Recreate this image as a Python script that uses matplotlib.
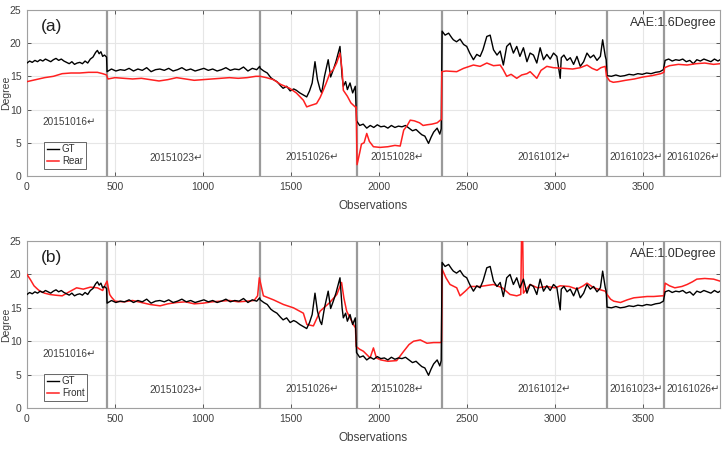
import matplotlib
matplotlib.use('Agg')
import matplotlib.pyplot as plt

plt.rcParams['font.family'] = ['Liberation Sans', 'DejaVu Sans']

# ---------------- data ----------------
gt_x = [0, 15, 30, 45, 60, 75, 90, 105, 120, 135, 150, 165, 180, 195, 210, 225, 240, 255, 270, 285, 300, 315, 330, 345, 360, 375, 390, 400, 410, 420, 430, 440, 452,
        455, 480, 505, 530, 555, 580, 605, 630, 655, 680, 705, 730, 755, 780, 805, 830, 855, 880, 905, 930, 955, 980, 1005, 1030, 1055, 1080, 1105, 1130, 1155, 1180, 1205, 1230, 1255, 1280, 1305, 1322,
        1325, 1345, 1365, 1385, 1400, 1420, 1440, 1455, 1475, 1495, 1515, 1530, 1550, 1570, 1589, 1605, 1620, 1636, 1650, 1665, 1674, 1690, 1711, 1725, 1740, 1755, 1768, 1778, 1790, 1797, 1810, 1820, 1835, 1850, 1865,
        1872, 1890, 1910, 1930, 1950, 1970, 1990, 2010, 2030, 2050, 2070, 2090, 2110, 2130, 2150, 2170, 2190, 2210, 2230, 2243, 2260, 2281, 2295, 2310, 2330, 2345, 2353,
        2358, 2375, 2395, 2413, 2422, 2440, 2460, 2480, 2498, 2515, 2536, 2555, 2574, 2590, 2612, 2631, 2650, 2670, 2688, 2706, 2725, 2744, 2763, 2782, 2800, 2820, 2840, 2858, 2877, 2896, 2915, 2934, 2953, 2972, 2991, 3010, 3029, 3035, 3050, 3068, 3086, 3105, 3124, 3143, 3162, 3181, 3200, 3219, 3238, 3257, 3270, 3276, 3285, 3290,
        3295, 3320, 3345, 3370, 3395, 3420, 3445, 3470, 3495, 3520, 3545, 3570, 3595, 3615,
        3625, 3645, 3665, 3685, 3705, 3725, 3745, 3765, 3785, 3805, 3825, 3845, 3865, 3885, 3905, 3925, 3937]
gt_y = [17.0, 17.3, 17.1, 17.4, 17.2, 17.5, 17.3, 17.6, 17.4, 17.2, 17.5, 17.7, 17.4, 17.6, 17.3, 17.1, 16.9, 17.2, 16.8, 17.0, 17.1, 16.9, 17.3, 17.0, 17.6, 17.9, 18.6, 18.9, 18.4, 18.7, 18.0, 18.2, 17.9,
        15.7, 16.1, 15.8, 16.0, 15.9, 16.2, 15.8, 16.1, 15.9, 16.3, 15.7, 16.0, 16.1, 15.9, 16.2, 15.8, 16.0, 16.3, 15.9, 16.1, 15.8, 16.0, 16.2, 15.9, 16.1, 15.8, 16.0, 16.3, 15.9, 16.1, 16.0, 16.4, 15.8, 16.2, 16.0, 16.5,
        16.2, 15.8, 15.5, 14.8, 14.5, 14.2, 13.6, 13.2, 13.5, 12.8, 13.1, 12.9, 12.5, 12.2, 11.9, 12.8, 14.0, 17.2, 14.5, 13.0, 12.5, 15.0, 17.5, 14.9, 16.0, 17.2, 18.5, 19.5, 15.0, 13.5, 14.2, 13.0, 14.0, 12.5, 13.5,
        8.3, 7.6, 7.8, 7.2, 7.6, 7.3, 7.7, 7.4, 7.5, 7.2, 7.6, 7.3, 7.5, 7.4, 7.6, 7.2, 6.8, 7.0, 6.5, 6.2, 6.0, 4.9, 5.8, 6.6, 7.2, 6.3, 7.1,
        21.8, 21.2, 21.5, 20.8, 20.5, 20.2, 20.6, 19.8, 19.5, 18.5, 17.5, 18.3, 18.0, 19.0, 21.0, 21.2, 19.0, 18.2, 18.8, 16.7, 19.5, 20.0, 18.5, 19.5, 18.0, 19.3, 17.2, 18.5, 18.2, 17.0, 19.3, 17.5, 18.3, 17.6, 18.5, 18.0, 14.7, 17.8, 18.2, 17.4, 17.8, 16.8, 18.0, 16.5, 17.2, 18.5, 17.8, 18.2, 17.4, 18.0, 20.5, 19.5, 18.0, 17.5,
        15.1, 15.0, 15.2, 15.0, 15.1, 15.3, 15.2, 15.4, 15.3, 15.5, 15.4, 15.6, 15.7, 16.0,
        17.4, 17.6, 17.3, 17.5, 17.4, 17.6, 17.2, 17.4, 16.9, 17.5, 17.3, 17.6, 17.4, 17.2, 17.6, 17.3, 17.5]

rear_x = [0, 50, 100, 150, 200, 250, 300, 350, 400, 430, 452,
          460, 500, 550, 600, 650, 700, 750, 800, 850, 900, 950, 1000, 1050, 1100, 1150, 1200, 1250, 1300, 1322,
          1325, 1360, 1400, 1440, 1492, 1530, 1570, 1589, 1610, 1645, 1665, 1683, 1700, 1721, 1740, 1759, 1778, 1790, 1797, 1820, 1840, 1864,
          1870, 1875, 1890, 1900, 1915, 1930, 1945, 1968, 2006, 2050, 2090, 2120, 2140, 2160, 2177, 2200, 2230, 2250, 2272, 2300, 2330, 2348, 2355,
          2356, 2380, 2441, 2480, 2536, 2574, 2612, 2650, 2688, 2705, 2725, 2750, 2782, 2810, 2840, 2858, 2877, 2896, 2920, 2953, 2990, 3048, 3100, 3143, 3181, 3210, 3238, 3260, 3285,
          3292, 3310, 3330, 3360, 3400, 3450, 3500, 3550, 3600, 3618,
          3622, 3650, 3700, 3750, 3800, 3850, 3900, 3937]
rear_y = [14.2, 14.5, 14.8, 15.0, 15.4, 15.5, 15.5, 15.6, 15.6, 15.4, 15.2,
          14.6, 14.8, 14.7, 14.6, 14.7, 14.5, 14.3, 14.5, 14.8, 14.6, 14.4, 14.5, 14.6, 14.7, 14.8, 14.7, 14.8, 15.0, 15.0,
          15.0, 14.8, 14.5, 13.8, 13.2, 12.5, 11.4, 10.4, 10.6, 10.9, 11.8, 12.9, 14.0, 15.5, 16.0, 17.0, 18.5, 16.0, 12.9, 12.0, 11.0, 10.4,
          10.4, 1.7, 3.5, 4.8, 5.0, 6.4, 5.2, 4.4, 4.3, 4.4, 4.6, 4.5, 6.9, 7.6, 8.4, 8.3, 8.0, 7.6, 7.7, 7.8, 8.0, 8.4, 8.5,
          15.7, 15.8, 15.7, 16.2, 16.7, 16.5, 17.0, 16.6, 16.7, 16.0, 15.0, 15.3, 14.7, 15.2, 15.4, 15.7, 15.2, 14.7, 15.9, 16.5, 16.3, 16.2, 16.1, 16.3, 16.7, 16.2, 15.9, 16.3, 16.5,
          15.0, 14.3, 14.1, 14.2, 14.4, 14.6, 14.9, 15.1, 15.4, 15.6,
          16.3, 16.6, 16.8, 16.7, 16.9, 17.0, 16.8, 16.9]

front_x = [0, 20, 40, 60, 74, 100, 130, 160, 200, 240, 282, 320, 360, 400, 430, 445, 455, 462, 470, 480,
           500, 550, 600, 650, 700, 756, 800, 850, 900, 950, 1000, 1050, 1100, 1150, 1200, 1250, 1290,
           1310, 1320, 1343, 1400, 1457, 1514, 1570, 1590, 1627, 1665, 1720, 1760, 1787, 1800, 1816, 1854, 1866,
           1870, 1890, 1911, 1930, 1949, 1968, 1985, 2010, 2050, 2100, 2140, 2170, 2196, 2234, 2272, 2310, 2348, 2355,
           2358, 2380, 2403, 2441, 2460, 2490, 2517, 2574, 2650, 2700, 2744, 2782, 2805, 2810, 2815, 2820, 2858, 2900, 2953, 3000, 3029, 3080, 3124, 3160, 3181, 3220, 3257, 3285,
           3295, 3315, 3333, 3371, 3410, 3447, 3485, 3523, 3560, 3608, 3618,
           3625, 3650, 3680, 3720, 3750, 3780, 3805, 3850, 3900, 3937]
front_y = [20.0, 19.2, 18.3, 17.8, 17.5, 17.2, 17.0, 16.9, 16.8, 17.4, 18.0, 17.8, 18.1, 18.0, 17.6, 18.5, 19.0, 18.0, 17.0, 16.6,
           16.0, 15.9, 16.1, 15.8, 15.5, 15.3, 15.6, 15.8, 15.9, 15.6, 15.7, 15.9, 16.0, 16.1, 15.9, 16.0, 16.1,
           16.8, 19.5, 16.8, 16.2, 15.5, 15.0, 14.2, 12.5, 12.3, 14.5, 15.8, 17.0, 18.8, 16.5, 14.5, 12.5, 12.0,
           9.2, 8.8, 8.5, 8.0, 7.5, 9.0, 7.5, 7.2, 7.0, 7.1, 8.5, 9.5, 10.0, 10.2, 9.7, 9.8, 9.8, 9.9,
           20.8, 19.5, 18.5, 18.0, 16.8, 17.5, 18.2, 18.2, 18.5, 18.0, 17.0, 16.8, 17.0, 27.0, 27.0, 17.2, 18.5, 18.0, 18.2, 18.0, 18.3, 18.2, 17.8, 18.3, 18.7, 18.0, 17.7, 17.5,
           17.0, 16.3, 16.0, 15.8, 16.2, 16.5, 16.6, 16.7, 16.7, 16.8, 16.8,
           18.7, 18.3, 18.0, 18.2, 18.5, 18.9, 19.3, 19.4, 19.3, 19.0]

session_bounds = [453, 1324, 1872, 2355, 3292, 3618]
session_names = ['20151016', '20151023', '20151026', '20151028', '20161012', '20161023', '20161026']
aae_values = ['1.6', '1.0']
panel_tags = ['(a)', '(b)']
pred_names = ['Rear', 'Front']
x_ticks = [0, 500, 1000, 1500, 2000, 2500, 3000, 3500]
y_ticks = [0, 5, 10, 15, 20, 25]

# ---------------- figure ----------------
fig = plt.figure(figsize=(7.25, 4.5), dpi=100)
ax_top = fig.add_axes([0.0372, 0.609, 0.956, 0.369])
ax_bot = fig.add_axes([0.0372, 0.0933, 0.956, 0.371])

name_pos = [(240, 8.1), (850, 2.7), (1620, 2.9), (2105, 2.9), (2940, 2.9), (3460, 2.9), (3785, 2.9)]
txt_col = '#404040'

for i, (ax, pred_y, pred_x) in enumerate([(ax_top, rear_y, rear_x), (ax_bot, front_y, front_x)]):
    ax.grid(True, color='#e6e6e6', linewidth=0.8)
    ax.set_axisbelow(True)
    for b in session_bounds:
        ax.axvline(b, color='#9a9a9a', linewidth=1.6, zorder=1.5)
    ax.plot(gt_x, gt_y, color='black', linewidth=1.0, label='GT', zorder=3)
    ax.plot(pred_x, pred_y, color='#ff2020', linewidth=1.1, label=pred_names[i], zorder=3 if i == 0 else 2.9)
    ax.set_xlim(0, 3937)
    ax.set_ylim(0, 25)
    ax.set_xticks(x_ticks)
    ax.set_yticks(y_ticks)
    ax.tick_params(direction='in', top=True, right=True, labelsize=7.5, colors='#404040',
                   length=3, width=0.6, pad=4)
    for sp in ax.spines.values():
        sp.set_color('#a0a0a0')
        sp.set_linewidth(0.8)
    ax.set_xlabel('Observations', fontsize=8.5, color='#404040', labelpad=6)
    ax.set_ylabel('Degree', fontsize=7.5, color='#404040')
    ax.yaxis.set_label_coords(-0.023, 0.5)
    for name, (px, py) in zip(session_names, name_pos):
        ax.text(px, py, name + '\u21b5', fontsize=7.2, color=txt_col, ha='center', va='center')
    ax.text(0.02, 0.9, panel_tags[i], transform=ax.transAxes, fontsize=12.5, color='#202020',
            ha='left', va='center')
    ax.text(0.995, 0.92, 'AAE:' + aae_values[i] + 'Degree', transform=ax.transAxes, fontsize=9,
            color='#303030', ha='right', va='center')
    leg = ax.legend(loc='lower left', bbox_to_anchor=(0.025, 0.04), fontsize=7, handlelength=1.2,
                    handletextpad=0.3, borderpad=0.3, labelspacing=0.2, frameon=True, fancybox=False,
                    borderaxespad=0)
    leg.get_frame().set_edgecolor('#404040')
    leg.get_frame().set_linewidth(0.7)
    for t in leg.get_texts():
        t.set_color('#303030')

fig.savefig('out.png', dpi=100)
